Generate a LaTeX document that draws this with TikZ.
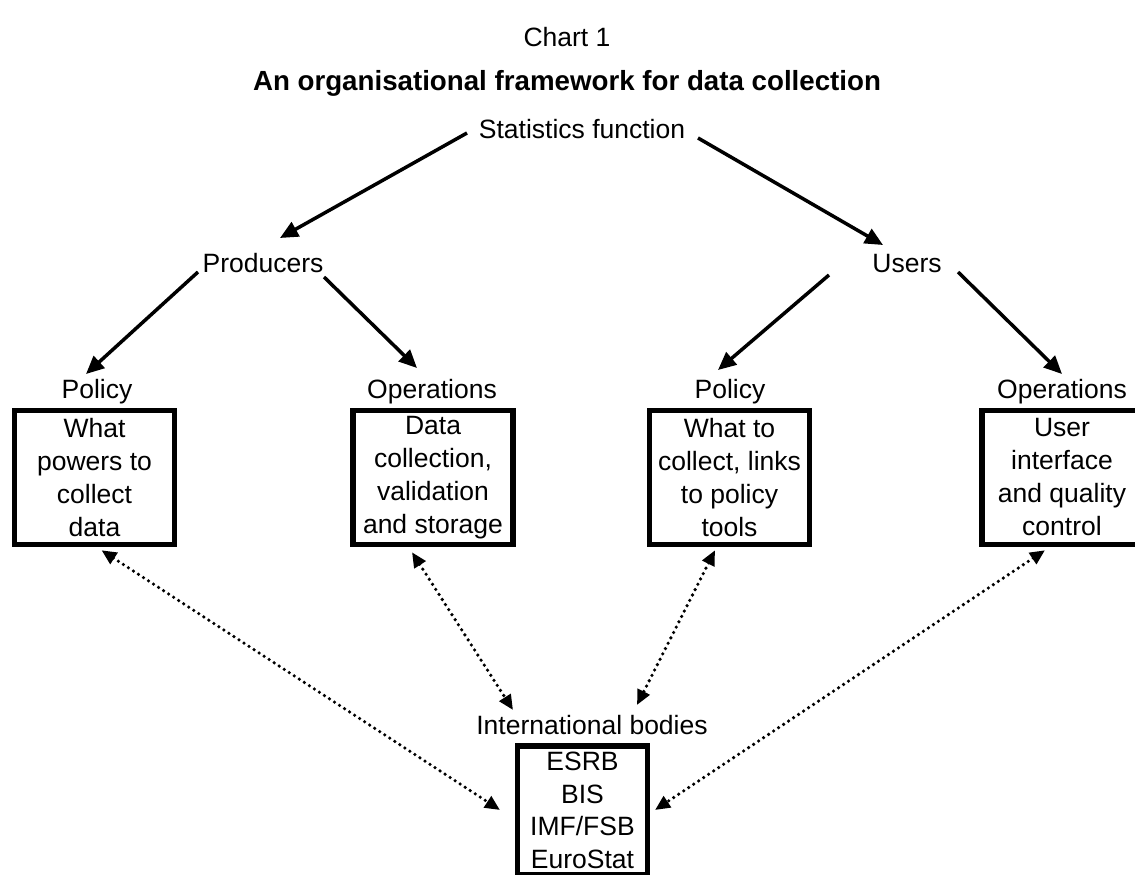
\documentclass[tikz,border=0pt]{standalone}
\usepackage{fontspec}
\setmainfont{Liberation Sans}
\usetikzlibrary{arrows.meta,calc}
\begin{document}
\begin{tikzpicture}[x=1pt,y=-1pt,
  every node/.style={font=\fontsize{26.5}{33}\selectfont, inner sep=0pt},
  lbl/.style={anchor=base},
  box/.style={draw, line width=5.5pt, minimum width=160pt, minimum height=134pt, align=center},
  arr/.style={line width=3.5pt, -{Triangle[length=18pt,width=16pt]}},
  dotarr/.style={line width=3.6pt, line cap=round, dash pattern=on 0pt off 6pt,
    {Triangle[length=15pt,width=13pt]}-{Triangle[length=15pt,width=13pt]}}]
\useasboundingbox (0,0) rectangle (1135,875);
% titles
\node[lbl] (chart) at (567,47) {Chart 1};
\node[lbl, font=\fontsize{27.7}{33}\selectfont\bfseries] (title) at (567,91) {An organisational framework for data collection};
% labels
\node[lbl] (stat) at (582,138) {Statistics function};
\node[lbl] (prod) at (263,272) {Producers};
\node[lbl] (users) at (907,272) {Users};
\node[lbl] (pol1) at (97,398) {Policy};
\node[lbl] (ops2) at (432,398) {Operations};
\node[lbl] (pol3) at (730,398) {Policy};
\node[lbl] (ops4) at (1062,398) {Operations};
\node[lbl] (intl) at (592,734) {International bodies};
% boxes
\node[box] (b1) at (94.5,477.5) {What\\powers to\\collect\\data};
\node[box] (b2) at (433,477.5) {Data\\collection,\\validation\\and storage};
\node[box] (b3) at (729.5,477.5) {What to\\collect, links\\to policy\\tools};
\node[box] (b4) at (1062,477.5) {User\\interface\\and quality\\control};
\node[draw, line width=5.5pt, anchor=north, minimum width=130pt, inner ysep=6.5pt, inner xsep=0pt, align=center,
  font=\fontsize{26.5}{32.5}\selectfont] (bodies) at (582.5,743) {ESRB\\BIS\\IMF/FSB\\EuroStat};
% solid arrows
\draw[arr] ($(stat.base)+(-115,-5)$) -- ($(prod.base)+(17,-34)$);
\draw[arr] ($(stat.base)+(116,0)$) -- ($(users.base)+(-24,-27)$);
\draw[arr] ($(prod.base)+(-65,0)$) -- ($(pol1.base)+(-11,-24)$);
\draw[arr] ($(prod.base)+(61,5)$) -- ($(ops2.base)+(-15,-30)$);
\draw[arr] ($(users.base)+(-78,3)$) -- ($(pol3.base)+(-12,-28)$);
\draw[arr] ($(users.base)+(51,0)$) -- ($(ops4.base)+(0,-24)$);
% dotted double arrows
\draw[dotarr] ($(b1.south)+(7,3)$) -- ($(bodies.north)+(-82.5,67)$);
\draw[dotarr] ($(b2.south)+(-21,5)$) -- ($(intl.base)+(-79,-24)$);
\draw[dotarr] ($(b3.south)+(-14.5,3)$) -- ($(intl.base)+(45,-29)$);
\draw[dotarr] ($(b4.south)+(-17,3)$) -- ($(bodies.north)+(72.5,67)$);
\end{tikzpicture}
\end{document}
